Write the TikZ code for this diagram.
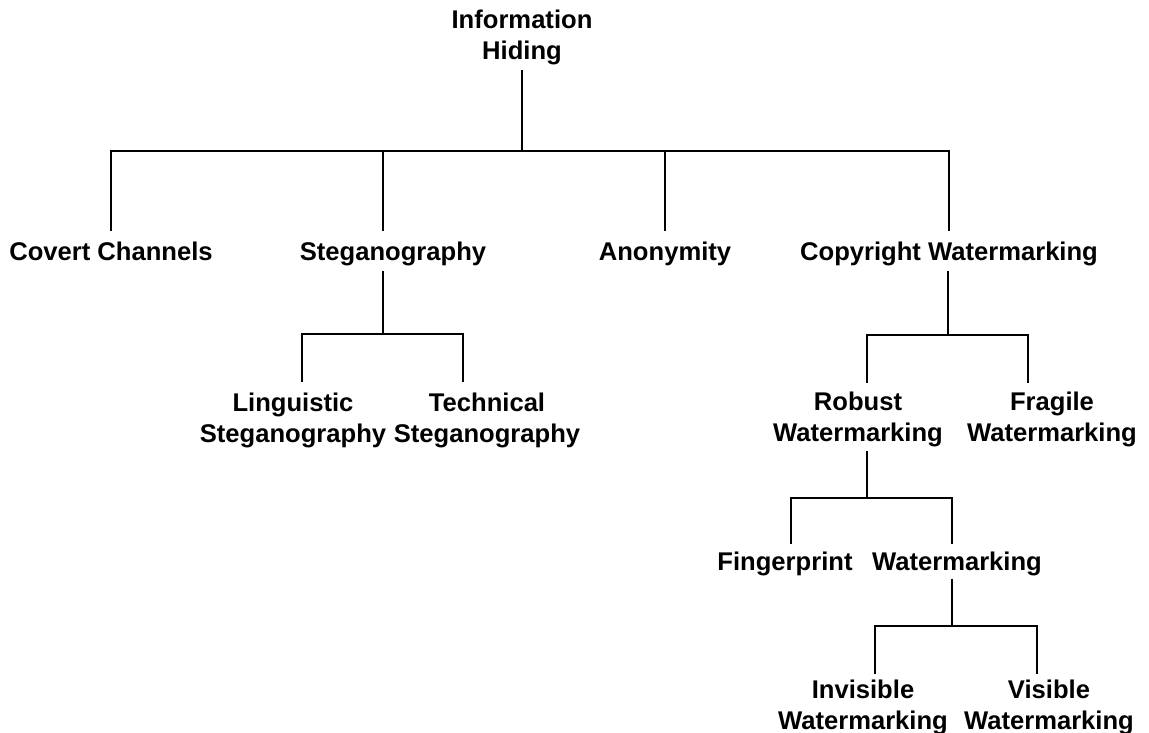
\documentclass[tikz,border=0pt]{standalone}
\usepackage{fontspec}
\setmainfont{Liberation Sans}
\begin{document}
\begin{tikzpicture}[x=1pt,y=-1pt,
  lbl/.style={font=\fontsize{25.6}{31}\selectfont\bfseries, align=center, inner sep=0pt},
  conn/.style={line width=1.9pt}]
\useasboundingbox (0,0) rectangle (1149,733);
% nodes
\node[lbl,anchor=north] (info) at (522,10) {Information\\Hiding};
\node[lbl,anchor=base] (covert) at (111,260) {Covert Channels};
\node[lbl,anchor=base] (steg) at (393,260) {Steganography};
\node[lbl,anchor=base] (anon) at (665,260) {Anonymity};
\node[lbl,anchor=base] (copy) at (949,260) {Copyright Watermarking};
\node[lbl,anchor=north] (ling) at (293,393) {Linguistic\\Steganography};
\node[lbl,anchor=north] (tech) at (487,393) {Technical\\Steganography};
\node[lbl,anchor=north] (robust) at (858,392) {Robust\\Watermarking};
\node[lbl,anchor=north] (fragile) at (1052,392) {Fragile\\Watermarking};
\node[lbl,anchor=base] (finger) at (785,570) {Fingerprint};
\node[lbl,anchor=base] (wm) at (957,570) {Watermarking};
\node[lbl,anchor=north] (invis) at (863,680) {Invisible\\Watermarking};
\node[lbl,anchor=north] (vis) at (1049,680) {Visible\\Watermarking};
% junctions
\coordinate (j1) at (522,151);
\coordinate (j2) at (383,334);
\coordinate (j3) at (948,335);
\coordinate (j4) at (867,498);
\coordinate (j5) at (952,626);
% connectors
\draw[conn] ([yshift=-5pt]info.south) -- (j1);
\draw[conn] (j1) -| ([yshift=10pt]covert.north);
\draw[conn] (j1) -| ([xshift=-10pt,yshift=10pt]steg.north);
\draw[conn] (j1) -| ([yshift=10pt]anon.north);
\draw[conn] (j1) -| ([yshift=10pt]copy.north);
\draw[conn] ([xshift=-10pt,yshift=-5pt]steg.south) -- (j2);
\draw[conn] (j2) -| ([xshift=9pt,yshift=11pt]ling.north);
\draw[conn] (j2) -| ([xshift=-24pt,yshift=11pt]tech.north);
\draw[conn] ([xshift=-1pt,yshift=-5pt]copy.south) -- (j3);
\draw[conn] (j3) -| ([xshift=9pt,yshift=9pt]robust.north);
\draw[conn] (j3) -| ([xshift=-24pt,yshift=9pt]fragile.north);
\draw[conn] ([xshift=9pt,yshift=-4pt]robust.south) -- (j4);
\draw[conn] (j4) -| ([xshift=6pt,yshift=7pt]finger.north);
\draw[conn] (j4) -| ([xshift=-5pt,yshift=7pt]wm.north);
\draw[conn] ([xshift=-5pt,yshift=-3pt]wm.south) -- (j5);
\draw[conn] (j5) -| ([xshift=12pt,yshift=6pt]invis.north);
\draw[conn] (j5) -| ([xshift=-12pt,yshift=6pt]vis.north);
\end{tikzpicture}
\end{document}
